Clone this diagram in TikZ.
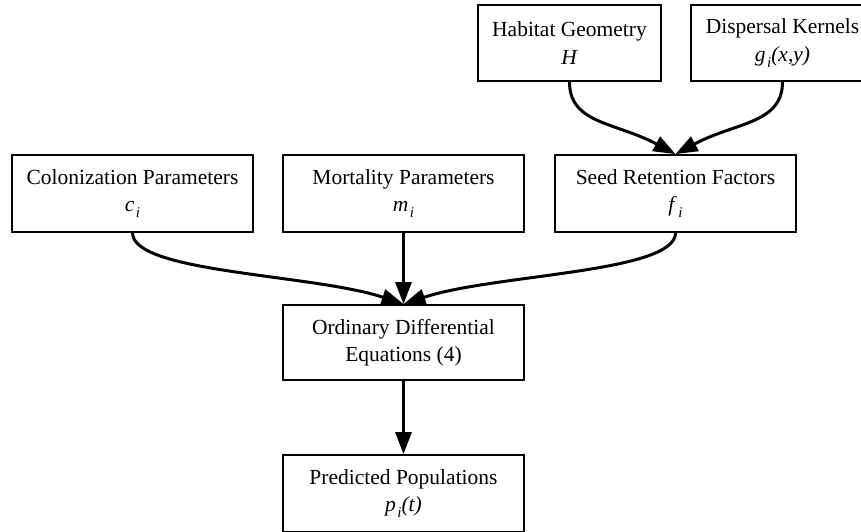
\documentclass[tikz,border=0pt]{standalone}
\usepackage{fontspec}
\setmainfont{Liberation Serif}
\usetikzlibrary{arrows.meta}
\tikzset{
  box/.style={draw=black, line width=1.8pt, fill=white, align=center,
    inner sep=0pt, font=\fontsize{21.5}{27.5}\selectfont},
  wide/.style={box, minimum width=241pt, minimum height=77pt},
  narrow/.style={box, minimum width=183pt, minimum height=76pt},
  conn/.style={line width=3pt, -{Triangle[length=22pt,width=16pt]}}
}
\newcommand{\sub}[2]{\textit{#1}\hspace{1.5pt}\raisebox{-6pt}{\fontsize{15}{15}\selectfont\textit{#2}}}
\begin{document}
\begin{tikzpicture}[x=1pt,y=-1pt]
\useasboundingbox (0,0) rectangle (861,531);
\clip (0,0) rectangle (861,531);
\fill[white] (0,0) rectangle (861,531);
\node[narrow] (hab) at (569.5,43) {Habitat Geometry\\ \textit{H}};
\node[narrow] (disp) at (782.5,43) {Dispersal Kernels\\ \sub{g}{i}\textit{(x,y)}};
\node[wide] (col) at (132.5,193.5) {Colonization Parameters\\ \sub{c}{i}};
\node[wide] (mort) at (403.5,193.5) {Mortality Parameters\\ \sub{m}{i}};
\node[wide] (seed) at (675.5,193.5) {Seed Retention Factors\\ \sub{f}{i}};
\node[wide, minimum height=75pt] (ode) at (403.5,342.5) {Ordinary Differential\\ Equations (4)};
\node[wide] (pred) at (403.5,493.5) {Predicted Populations\\ \sub{p}{i}\textit{(t)}};
\draw[conn] (hab.south) .. controls +(0,42) and +(-60,-32) .. (seed.north);
\draw[conn] (disp.south) .. controls +(0,42) and +(60,-32) .. (seed.north);
\draw[conn] (col.south) .. controls +(0,40) and +(-90,-30) .. (ode.north);
\draw[conn] (mort.south) -- (ode.north);
\draw[conn] (seed.south) .. controls +(0,40) and +(90,-30) .. (ode.north);
\draw[conn] (ode.south) -- (pred.north);
\end{tikzpicture}
\end{document}
